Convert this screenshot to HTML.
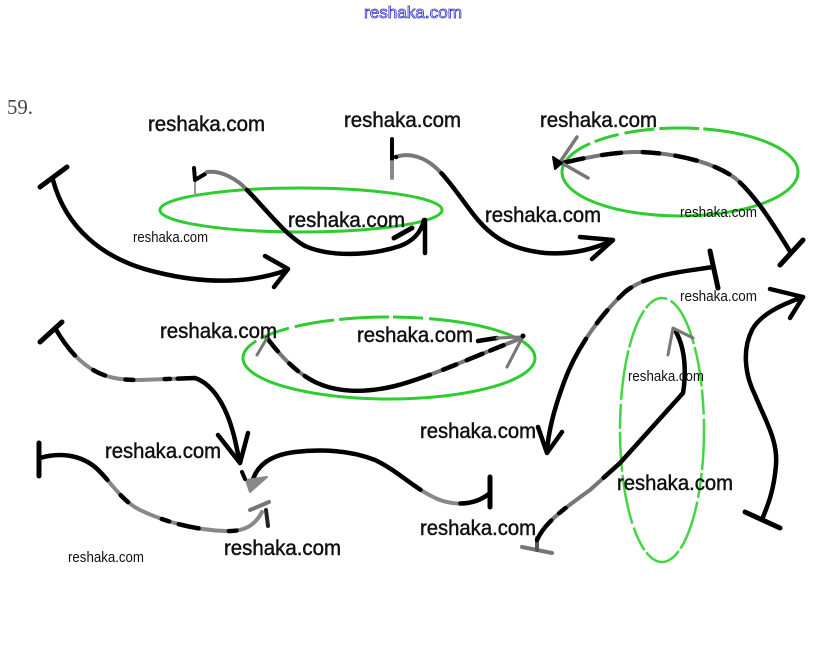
<!DOCTYPE html>
<html><head><meta charset="utf-8"><style>
html,body{margin:0;padding:0;background:#fff;}
svg{display:block}
</style></head><body>
<svg width="823" height="663" viewBox="0 0 823 663" xmlns="http://www.w3.org/2000/svg">
<rect width="823" height="663" fill="#fff"/>

<!-- ellipses -->
<g fill="none">
 <ellipse cx="301" cy="210" rx="141" ry="22" stroke="#2fcc2f" stroke-width="3"/>
 <ellipse cx="680" cy="172" rx="118" ry="44" stroke="#2fcc2f" stroke-width="3" stroke-dasharray="310 5 25 6 30 5 40 4 200"/>
 <ellipse cx="662" cy="430" rx="42" ry="132" stroke="#44d444" stroke-width="2.5" stroke-dasharray="40 3 25 4 50 3"/>
 <ellipse cx="389" cy="358" rx="146" ry="41" stroke="#2fcc2f" stroke-width="3" stroke-dasharray="340 5 30 6 40 5 50 4 30 6 200"/>
</g>

<g fill="none" stroke-linecap="round" stroke-linejoin="round">
 <!-- Fig 1 -->
 <path d="M53,180 C65,225 100,260 160,273 C210,285 255,282 287,270" stroke="#000" stroke-width="4.5"/>
 <path d="M40,187 L67,167" stroke="#000" stroke-width="5"/>
 <path d="M265,256 L288,269 L274,287" stroke="#000" stroke-width="4.5"/>

 <!-- Fig 2 -->
 <path d="M195,182 L195,196" stroke="#999" stroke-width="2"/>
 <path d="M194,168 L195,180 L205,174" stroke="#000" stroke-width="4"/>
 <path d="M207,172 C222,170 238,180 247,190" stroke="#777" stroke-width="4"/>
 <path d="M247,190 C265,208 285,235 305,246 C330,257 370,256 400,246 C413,241 421,233 424,220" stroke="#000" stroke-width="4.5"/>
 <path d="M425,220 L425,253" stroke="#000" stroke-width="4.5"/>
 <path d="M394,238 L412,228" stroke="#000" stroke-width="5"/>

 <!-- Fig 3 -->
 <path d="M392,139 L392,160" stroke="#000" stroke-width="4"/>
 <path d="M392,162 L392,178" stroke="#888" stroke-width="4"/>
 <path d="M396,157 C410,152 425,158 435,167 C450,180 465,205 478,220 C495,240 515,250 545,253 C575,255 595,248 612,241" stroke="#777" stroke-width="4"/>
 <path d="M396,157 C410,152 425,158 435,167 C450,180 465,205 478,220 C495,240 515,250 545,253 C575,255 595,248 612,241" pathLength="100" stroke="#000" stroke-width="4.5" stroke-dasharray="0 20 100"/>
 <path d="M580,237 L613,240 L592,259" stroke="#000" stroke-width="4.5"/>

 <!-- Fig 4 -->
 <path d="M780,265 L803,240" stroke="#000" stroke-width="5"/>
 <path d="M791,253 C772,222 755,195 735,178 C710,160 670,153 640,152 C610,152 585,158 562,163" stroke="#777" stroke-width="4"/>
 <path d="M791,253 C772,222 755,195 735,178 C710,160 670,153 640,152 C610,152 585,158 562,163" pathLength="100" stroke="#000" stroke-width="4.5" stroke-dasharray="32 5 6 7 8 6 6 8 7 7 8 100"/>
 <path d="M577,137 L560,162 L588,178" stroke="#777" stroke-width="3.5"/>
 <path d="M553,157 L562,163 L555,169 Z" fill="#000" stroke="#000" stroke-width="2"/>

 <!-- Fig 5 -->
 <path d="M710,251 L718,288" stroke="#000" stroke-width="5"/>
 <path d="M713,267 C680,272 645,275 625,292 C600,315 575,350 563,385 C552,415 548,435 547,452" stroke="#777" stroke-width="4"/>
 <path d="M713,267 C680,272 645,275 625,292 C600,315 575,350 563,385 C552,415 548,435 547,452" pathLength="100" stroke="#000" stroke-width="4.5" stroke-dasharray="26 5 6 6 6 7 100"/>
 <path d="M538,427 L547,453 L562,432" stroke="#000" stroke-width="4.5"/>

 <!-- Fig 6 -->
 <path d="M522,547 L552,553" stroke="#777" stroke-width="4"/>
 <path d="M537,550 L537,538" stroke="#555" stroke-width="4"/>
 <path d="M537,540 C545,522 565,508 590,490 L620,463 L683,393 C686,375 686,350 676,332" stroke="#777" stroke-width="4"/>
 <path d="M537,540 C545,522 565,508 590,490 L620,463 L683,393 C686,375 686,350 676,332" pathLength="100" stroke="#000" stroke-width="4.5" stroke-dasharray="9 4 3 18 100"/>
 <path d="M668,355 L673,328 L693,338" stroke="#777" stroke-width="3"/>

 <!-- Fig 7 -->
 <path d="M803,297 C780,305 760,315 752,330 C742,350 745,375 755,395 C765,420 778,440 776,465 C774,490 768,505 763,517" stroke="#000" stroke-width="4.5"/>
 <path d="M770,289 L803,297 L790,318" stroke="#000" stroke-width="4.5"/>
 <path d="M745,512 L780,528" stroke="#000" stroke-width="5"/>

 <!-- Fig 8 -->
 <path d="M40,342 L62,322" stroke="#000" stroke-width="5"/>
 <path d="M55,328 C65,345 75,358 90,368 C105,378 120,380 140,380 L195,378 C215,385 228,410 235,440 L240,463" stroke="#888" stroke-width="4"/>
 <path d="M55,328 C65,345 75,358 90,368 C105,378 120,380 140,380 L195,378 C215,385 228,410 235,440 L240,463" pathLength="100" stroke="#000" stroke-width="4.5" stroke-dasharray="13 9 5 8 3 12 2 3 100"/>
 <path d="M218,435 L240,463 L248,433" stroke="#000" stroke-width="4.5"/>

 <!-- Fig 9 -->
 <path d="M39,443 L39,476" stroke="#000" stroke-width="5"/>
 <path d="M40,458 C60,452 80,455 95,467 C110,480 120,500 140,510 C165,522 195,530 225,531 C245,532 255,525 262,512" stroke="#888" stroke-width="4"/>
 <path d="M40,458 C60,452 80,455 95,467 C110,480 120,500 140,510 C165,522 195,530 225,531 C245,532 255,525 262,512" pathLength="100" stroke="#000" stroke-width="4.5" stroke-dasharray="30 8 4 15 3 4 8 12 3 100"/>
 <path d="M250,510 L269,502" stroke="#777" stroke-width="4"/>
 <path d="M266,510 L268,526" stroke="#222" stroke-width="4"/>

 <!-- Fig 10 -->
 <path d="M252,483 C256,466 270,455 295,452 C320,449 350,450 375,460 C400,472 415,490 440,500 C460,507 478,503 490,493" stroke="#888" stroke-width="4"/>
 <path d="M252,483 C256,466 270,455 295,452 C320,449 350,450 375,460 C400,472 415,490 440,500 C460,507 478,503 490,493" pathLength="100" stroke="#000" stroke-width="4.5" stroke-dasharray="72 16 100"/>
 <path d="M490,477 L490,507" stroke="#000" stroke-width="5"/>
 <path d="M246,480 L267,477 L250,492 Z" fill="#888" stroke="#888" stroke-width="2"/>
 <path d="M242,472 L245,479" stroke="#000" stroke-width="4"/>

 <!-- Ellipse 4 inner curve -->
 <path d="M267,338 C280,355 295,372 315,382 C340,394 370,392 395,386 C430,377 470,358 522,338" stroke="#777" stroke-width="4"/>
 <path d="M267,338 C280,355 295,372 315,382 C340,394 370,392 395,386 C430,377 470,358 522,338" pathLength="100" stroke="#000" stroke-width="4.5" stroke-dasharray="6 6 4 3 46 5 5 4 6 3 5 100"/>
 <path d="M257,355 L267,338" stroke="#777" stroke-width="3"/>
 <path d="M478,341 L497,338" stroke="#000" stroke-width="4.5"/>
 <path d="M497,338 L521,337" stroke="#777" stroke-width="3"/>
 <path d="M522,338 L507,367" stroke="#777" stroke-width="3"/>
 <circle cx="523" cy="336" r="2.5" fill="#000" stroke="none"/>
</g>

<!-- texts -->
<text x="364" y="18" font-family="Liberation Sans, sans-serif" font-size="17" textLength="98" lengthAdjust="spacingAndGlyphs" fill="#fff" stroke="#3030d0" stroke-width="0.8">reshaka.com</text>
<text x="7" y="114" font-family="Liberation Serif, serif" font-size="21" fill="#444" textLength="26" lengthAdjust="spacingAndGlyphs">59.</text>

<g font-family="Liberation Sans, sans-serif" font-size="21" fill="#111" stroke="#111" stroke-width="0.45">
 <text x="148" y="131" textLength="117" lengthAdjust="spacingAndGlyphs">reshaka.com</text>
 <text x="344" y="127" textLength="117" lengthAdjust="spacingAndGlyphs">reshaka.com</text>
 <text x="540" y="127" textLength="117" lengthAdjust="spacingAndGlyphs">reshaka.com</text>
 <text x="288" y="227" textLength="117" lengthAdjust="spacingAndGlyphs">reshaka.com</text>
 <text x="485" y="222" textLength="116" lengthAdjust="spacingAndGlyphs">reshaka.com</text>
 <text x="160" y="338" textLength="117" lengthAdjust="spacingAndGlyphs">reshaka.com</text>
 <text x="357" y="342" textLength="116" lengthAdjust="spacingAndGlyphs">reshaka.com</text>
 <text x="420" y="438" textLength="116" lengthAdjust="spacingAndGlyphs">reshaka.com</text>
 <text x="105" y="458" textLength="116" lengthAdjust="spacingAndGlyphs">reshaka.com</text>
 <text x="617" y="490" textLength="116" lengthAdjust="spacingAndGlyphs">reshaka.com</text>
 <text x="224" y="555" textLength="117" lengthAdjust="spacingAndGlyphs">reshaka.com</text>
 <text x="420" y="535" textLength="116" lengthAdjust="spacingAndGlyphs">reshaka.com</text>
</g>
<g font-family="Liberation Sans, sans-serif" font-size="15" fill="#111">
 <text x="133" y="242" textLength="75" lengthAdjust="spacingAndGlyphs">reshaka.com</text>
 <text x="680" y="217" textLength="77" lengthAdjust="spacingAndGlyphs">reshaka.com</text>
 <text x="680" y="301" textLength="77" lengthAdjust="spacingAndGlyphs">reshaka.com</text>
 <text x="628" y="381" textLength="76" lengthAdjust="spacingAndGlyphs">reshaka.com</text>
 <text x="68" y="562" textLength="76" lengthAdjust="spacingAndGlyphs">reshaka.com</text>
</g>
</svg>
</body></html>
